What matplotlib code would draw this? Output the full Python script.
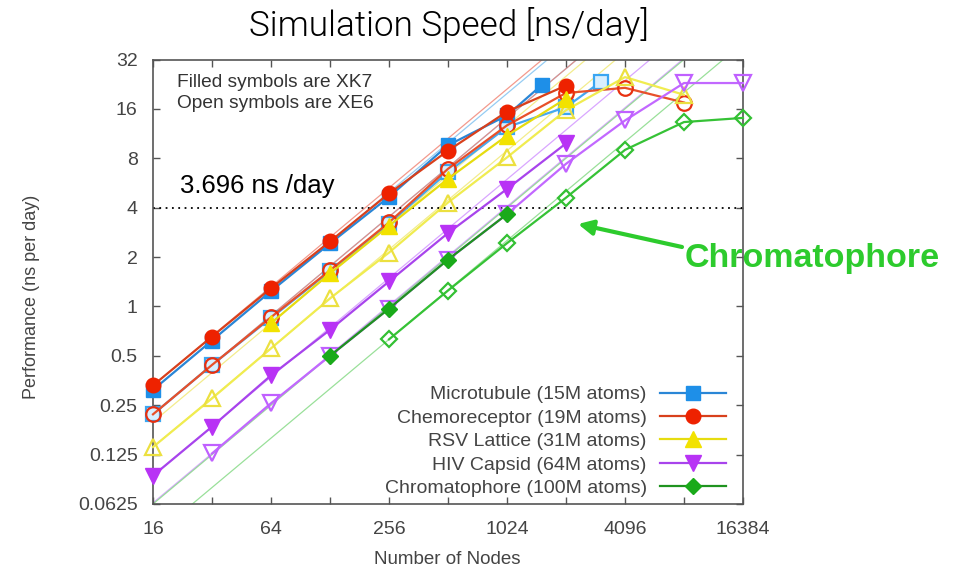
import matplotlib
matplotlib.use("Agg")
import matplotlib.pyplot as plt
import numpy as np

# ---------------- data ----------------
nodes_mt_xk7 = [16, 32, 64, 128, 256, 512, 1024, 1536]
perf_mt_xk7 = [0.31, 0.62, 1.24, 2.42, 4.65, 9.6, 14.6, 22.3]
nodes_mt_xe6 = [16, 32, 64, 128, 256, 512, 1024, 2048, 3072]
perf_mt_xe6 = [0.22, 0.44, 0.85, 1.64, 3.2, 6.6, 12.4, 16.4, 23.3]

nodes_cr_xk7 = [16, 32, 64, 128, 256, 512, 1024, 2048]
perf_cr_xk7 = [0.33, 0.655, 1.29, 2.49, 4.88, 8.9, 15.4, 22.2]
nodes_cr_xe6 = [16, 32, 64, 128, 256, 512, 1024, 2048, 4096, 8192]
perf_cr_xe6 = [0.22, 0.44, 0.86, 1.66, 3.25, 6.9, 12.7, 20.0, 21.5, 17.5]

nodes_rsv_xk7 = [64, 128, 256, 512, 1024, 2048]
perf_rsv_xk7 = [0.79, 1.59, 3.1, 6.0, 11.0, 18.5]
nodes_rsv_xe6 = [16, 32, 64, 128, 256, 512, 1024, 2048, 4096, 8192]
perf_rsv_xe6 = [0.139, 0.275, 0.555, 1.12, 2.13, 4.3, 8.1, 15.7, 25.0, 19.5]

nodes_hiv_xk7 = [16, 32, 64, 128, 256, 512, 1024, 2048]
perf_hiv_xk7 = [0.093, 0.185, 0.38, 0.72, 1.42, 2.8, 5.2, 9.85]
nodes_hiv_xe6 = [32, 64, 128, 256, 512, 1024, 2048, 4096, 8192, 16384]
perf_hiv_xe6 = [0.127, 0.257, 0.50, 0.97, 1.93, 3.65, 7.4, 13.6, 23.0, 23.0]

nodes_chr_xk7 = [128, 256, 512, 1024]
perf_chr_xk7 = [0.50, 0.97, 1.93, 3.65]
nodes_chr_xe6 = [256, 512, 1024, 2048, 4096, 8192, 16384]
perf_chr_xe6 = [0.63, 1.25, 2.43, 4.6, 9.0, 13.3, 14.1]

series_labels = ["Microtubule (15M atoms)", "Chemoreceptor (19M atoms)",
                 "RSV Lattice (31M atoms)", "HIV Capsid (64M atoms)",
                 "Chromatophore (100M atoms)"]
x_ticks = [16, 64, 256, 1024, 4096, 16384]
x_minor = [32, 128, 512, 2048, 8192]
y_ticks = [0.0625, 0.125, 0.25, 0.5, 1, 2, 4, 8, 16, 32]
y_ticklabels = ["0.0625", "0.125", "0.25", "0.5", "1", "2", "4", "8", "16", "32"]
ref_line_value = 4
ref_label = "3.696 ns /day"

# ---------------- styling ----------------
gp_font = ["Liberation Sans", "DejaVu Sans"]
gray = "#444444"

fig = plt.figure(figsize=(9.63, 5.72), dpi=100)
ax = fig.add_axes([153/963, 1-504/572, 590/963, 444.5/572])
ax.set_xscale("log", base=2)
ax.set_yscale("log", base=2)
ax.set_xlim(16, 16384)
ax.set_ylim(0.0625, 32)

styles = [
    (nodes_mt_xk7, perf_mt_xk7, nodes_mt_xe6, perf_mt_xe6, "s", "#1E8FE8", "#2a86d6", "#45a8f0", "#3aa6f2", "#d8efff", 9.5),
    (nodes_cr_xk7, perf_cr_xk7, nodes_cr_xe6, perf_cr_xe6, "o", "#EE2200", "#d8401c", "#e8502a", "#e83010", "none", 10.5),
    (nodes_rsv_xk7, perf_rsv_xk7, nodes_rsv_xe6, perf_rsv_xe6, "^", "#F2E200", "#e6dc10", "#f0ec50", "#ece040", "none", 11.5),
    (nodes_hiv_xk7, perf_hiv_xk7, nodes_hiv_xe6, perf_hiv_xe6, "v", "#B833F5", "#a844ec", "#c268ff", "#c060ff", "none", 11.5),
    (nodes_chr_xk7, perf_chr_xk7, nodes_chr_xe6, perf_chr_xe6, "D", "#1AAA1A", "#1f931f", "#36c236", "#33c033", "none", 8.5),
]
ideal_colors = ["#7cc0f0", "#f08070", "#f0e870", "#d090ff", "#80d880"]

xx = np.array([16, 32768], dtype=float)
# ideal-scaling reference lines from the first point of every series
for i, (nk, pk, ne, pe, m, fc, lk, le, oe, of, ms) in enumerate(styles):
    ax.plot(xx, pk[0] * xx / nk[0], color=ideal_colors[i], lw=0.9, alpha=0.8, zorder=1)
    ax.plot(xx, pe[0] * xx / ne[0], color=ideal_colors[i], lw=0.9, alpha=0.8, zorder=1)

handles = []
for i, (nk, pk, ne, pe, m, fc, lk, le, oe, of, ms) in enumerate(styles):
    z = 3 + i
    ax.plot(ne, pe, color=le, lw=1.6, marker=m, markersize=ms, markerfacecolor=of,
            markeredgecolor=oe, markeredgewidth=1.6, zorder=z, clip_on=False)
    h, = ax.plot(nk, pk, color=lk, lw=1.6, marker=m, markersize=ms, markerfacecolor=fc,
                 markeredgecolor=fc, zorder=z + 0.5, clip_on=False, label=series_labels[i])
    handles.append(h)

ax.axhline(ref_line_value, color="black", lw=1.3, linestyle=(0, (1, 2.5)), zorder=2)

# ticks
ax.set_xticks(x_ticks)
ax.set_xticklabels([str(t) for t in x_ticks])
ax.set_xticks(x_minor, minor=True)
ax.xaxis.set_minor_formatter(matplotlib.ticker.NullFormatter())
ax.set_yticks(y_ticks)
ax.set_yticklabels(y_ticklabels)
ax.yaxis.set_minor_locator(matplotlib.ticker.NullLocator())
ax.tick_params(which="both", direction="in", length=5, width=1, color="#555555",
               top=True, right=True, labelsize=14, labelcolor=gray)
ax.tick_params(axis="x", which="both", pad=12)
ax.tick_params(axis="y", which="both", pad=11)
for lab in ax.get_xticklabels() + ax.get_yticklabels():
    lab.set_family(gp_font)
for sp in ax.spines.values():
    sp.set_color("#555555")
    sp.set_linewidth(1.2)

leg = ax.legend(handles=handles, loc="lower right", frameon=False, markerfirst=False,
                prop={"family": gp_font, "size": 14}, labelcolor=gray,
                handlelength=3.4, handletextpad=0.7, labelspacing=0.3,
                borderaxespad=0.0, bbox_to_anchor=(0.985, -0.002))

ax.text(0.041, 0.949, "Filled symbols are XK7", transform=ax.transAxes, family=gp_font,
        fontsize=13.8, color="#333333", va="center", ha="left")
ax.text(0.041, 0.902, "Open symbols are XE6", transform=ax.transAxes, family=gp_font,
        fontsize=13.8, color="#333333", va="center", ha="left")
ax.text(0.046, 0.715, ref_label, transform=ax.transAxes, family=gp_font,
        fontsize=18.5, color="black", va="center", ha="left")

fig.text(449/963, 1-25/572, "Simulation Speed [ns/day]", ha="center", va="center",
         fontsize=25.3, family=["Roboto", "DejaVu Sans"], fontweight=300, color="black")
fig.text(447/963, 1-560/572, "Number of Nodes", ha="center", va="center",
         fontsize=13.5, family=gp_font, color=gray)
fig.text(31/963, 1-297/572, "Performance (ns per day)", ha="center", va="center",
         rotation=90, fontsize=13, family=gp_font, color=gray)

green = "#2DCB2D"
fig.text(685/963, 1-258/572, "Chromatophore", ha="left", va="center", fontsize=24.5,
         fontweight="bold", family=gp_font, color=green)
ax.annotate("", xy=(578/963, 1-224/572), xytext=(682/963, 1-247/572),
            xycoords="figure fraction", textcoords="figure fraction",
            arrowprops=dict(arrowstyle="-|>", color=green, lw=3, mutation_scale=22,
                            shrinkA=0, shrinkB=0))

fig.savefig("out.png", dpi=100)
